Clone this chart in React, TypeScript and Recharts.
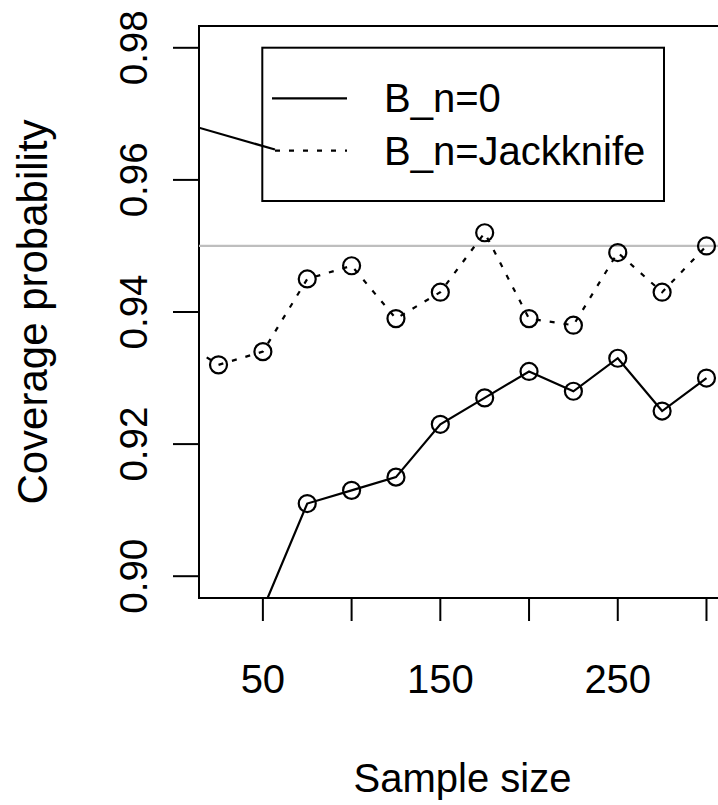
import React from 'react';
import { LineChart, Line, XAxis, YAxis, ReferenceLine, ReferenceArea } from 'recharts';

// sample sizes and coverage probabilities
const sampleSizes = [5, 25, 50, 75, 100, 125, 150, 175, 200, 225, 250, 275, 300];
const coverageZero = [null, 0.885, 0.895, 0.911, 0.913, 0.915, 0.923, 0.927, 0.931, 0.928, 0.933, 0.925, 0.93];
const coverageJackknife = [0.9354, 0.932, 0.934, 0.945, 0.947, 0.939, 0.943, 0.952, 0.939, 0.938, 0.949, 0.943, 0.95];

const xTicks = [50, 100, 150, 200, 250, 300];
const xTickLabels = [50, 150, 250];
const yTicks = [0.9, 0.92, 0.94, 0.96, 0.98];
const nominalLevel = 0.95;

const X_DOMAIN: [number, number] = [14, 311];
const Y_DOMAIN: [number, number] = [0.8967, 0.9833];

// stray segment that runs into the legend
const straySegment = [
  { x: 14, y: 0.9679 },
  { x: 56.8, y: 0.9646 },
];

const data = sampleSizes.map((n, i) => ({
  n,
  zero: coverageZero[i],
  jack: coverageJackknife[i],
}));

const FONT = '"Liberation Sans", Arial, Helvetica, sans-serif';
const FS = 40;

const YTick = (props: any) => {
  const { x, y, payload } = props;
  return (
    <text
      x={x}
      y={y}
      transform={`rotate(-90 ${x} ${y})`}
      textAnchor="middle"
      fontSize={38.5}
      fontFamily={FONT}
      fill="#000"
    >
      {Number(payload.value).toFixed(2)}
    </text>
  );
};

const dotStyle = { r: 8.5, fill: 'none', stroke: '#000', strokeWidth: 2.2, strokeDasharray: 'none' };

export default function App() {
  return (
    <div style={{ position: 'absolute', left: 0, top: 0, width: 718, height: 805, overflow: 'hidden', background: '#fff' }}>
      <LineChart width={740} height={805} data={data} margin={{ top: 26, right: 14, bottom: 0, left: 0 }}>
        <XAxis
          dataKey="n"
          type="number"
          domain={X_DOMAIN}
          allowDataOverflow
          ticks={xTicks}
          interval={0}
          height={207}
          axisLine={false}
          tickSize={23}
          tickMargin={44}
          tickLine={{ stroke: '#000', strokeWidth: 2 }}
          tick={{ fontSize: FS, fontFamily: FONT, fill: '#000' }}
          tickFormatter={(v: number) => (xTickLabels.includes(v) ? String(v) : '')}
        />
        <YAxis
          type="number"
          domain={Y_DOMAIN}
          allowDataOverflow
          ticks={yTicks}
          interval={0}
          width={199}
          axisLine={false}
          tickSize={26}
          tickMargin={26}
          tickLine={{ stroke: '#000', strokeWidth: 2 }}
          tick={<YTick />}
        />
        <ReferenceLine y={nominalLevel} stroke="#bebebe" strokeWidth={2.2} />
        <Line
          dataKey="zero"
          stroke="#000"
          strokeWidth={2.2}
          dot={dotStyle}
          isAnimationActive={false}
        />
        <Line
          dataKey="jack"
          stroke="#000"
          strokeWidth={2.2}
          strokeDasharray="5 9"
          dot={dotStyle}
          isAnimationActive={false}
        />
        <ReferenceLine segment={straySegment} stroke="#000" strokeWidth={2.2} ifOverflow="hidden" />
        <ReferenceArea
          x1={X_DOMAIN[0]}
          x2={X_DOMAIN[1]}
          y1={Y_DOMAIN[0]}
          y2={Y_DOMAIN[1]}
          fill="none"
          fillOpacity={0}
          stroke="#000"
          strokeWidth={2}
          ifOverflow="visible"
        />
      </LineChart>
      <svg
        width={718}
        height={805}
        style={{ position: 'absolute', left: 0, top: 0, pointerEvents: 'none' }}
        fontFamily={FONT}
        fontSize={FS}
      >
        <rect x={262.3} y={47.7} width={401.7} height={153.3} fill="none" stroke="#000" strokeWidth={2} />
        <line x1={272} x2={347} y1={98.3} y2={98.3} stroke="#000" strokeWidth={2.2} />
        <line x1={275} x2={347} y1={150.7} y2={150.7} stroke="#000" strokeWidth={2.2} strokeDasharray="5 9" />
        <text x={384} y={98.3} dominantBaseline="central" fill="#000">B_n=0</text>
        <text x={384} y={150.7} dominantBaseline="central" fill="#000">B_n=Jackknife</text>
        <text x={47} y={312} transform="rotate(-90 47 312)" textAnchor="middle" fontSize={42} fill="#000">Coverage probability</text>
        <text x={462.5} y={792} textAnchor="middle" fill="#000">Sample size</text>
      </svg>
    </div>
  );
}
